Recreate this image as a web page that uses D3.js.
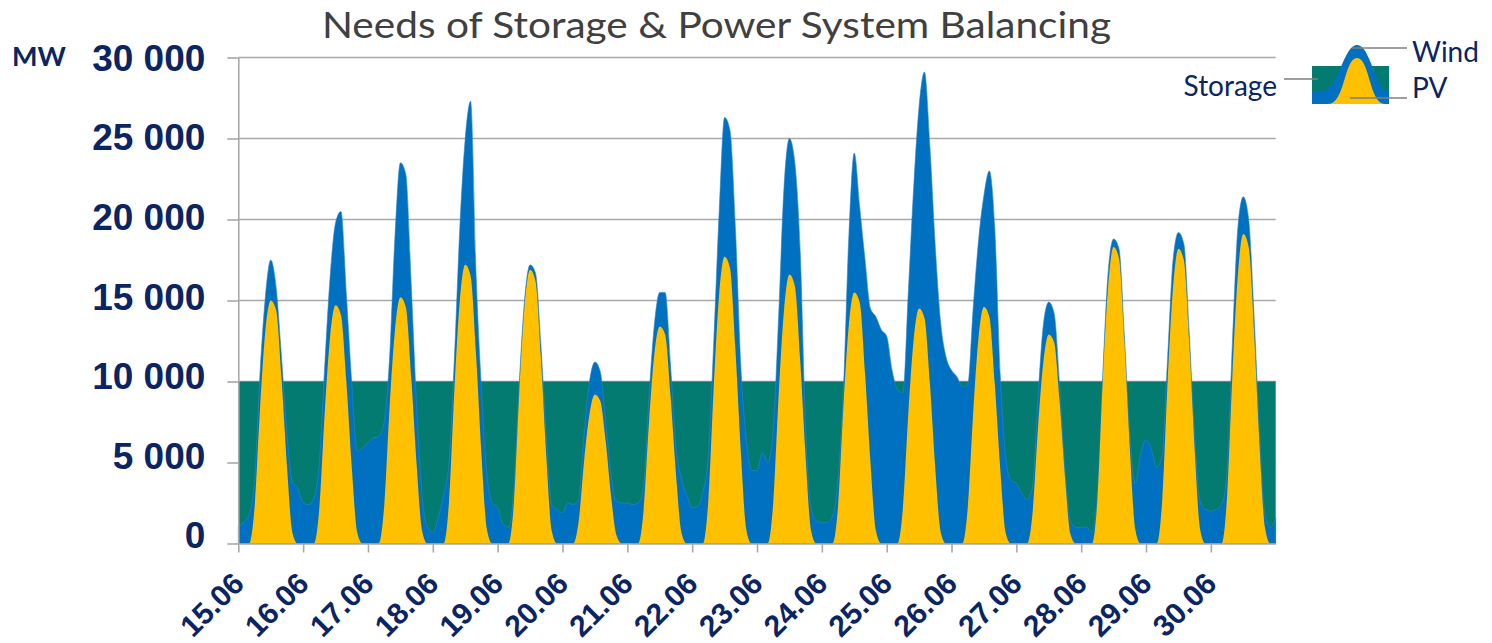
<!DOCTYPE html>
<html><head><meta charset="utf-8">
<script src="https://cdn.jsdelivr.net/npm/d3@7"></script>
<style>html,body{margin:0;padding:0;background:#fff}svg{display:block}</style>
</head><body>
<svg id="chart" width="1492" height="643"></svg>
<script>
// ---- data (MW), one value every 2 hours starting 15.06 00:00 ----
const dayLabels = ["15.06","16.06","17.06","18.06","19.06","20.06","21.06","22.06",
                   "23.06","24.06","25.06","26.06","27.06","28.06","29.06","30.06"];
const stepHours = 2;
const storageLevel = 10000;
const yTicks = [0, 5000, 10000, 15000, 20000, 25000, 30000];

const pv = [
  0,0,0,2200,8200,13100,15000,14400,10200,4800,700,0,
  0,0,0,2200,8100,12800,14700,14100,10000,4700,700,0,
  0,0,0,2300,8400,13200,15200,14600,10300,4900,800,0,
  0,0,0,2600,9500,15000,17200,16500,11700,5500,900,0,
  0,0,0,2500,9300,14700,16900,16200,11500,5400,800,0,
  0,0,0,1400,5100,8000,9200,8800,6300,2900,500,0,
  0,0,0,2000,7400,11700,13400,12900,9100,4300,700,0,
  0,0,0,2700,9700,15400,17700,17000,12000,5700,900,0,
  0,0,0,2500,9100,14400,16600,15900,11300,5300,800,0,
  0,0,0,2300,8500,13500,15500,14900,10500,5000,800,0,
  0,0,0,2200,8000,12600,14500,13900,9900,4600,700,0,
  0,0,0,2200,8000,12700,14600,14000,9900,4700,700,0,
  0,0,0,1900,7100,11200,12900,12400,8800,4100,600,0,
  0,0,0,2700,10100,15900,18300,17600,12400,5900,900,0,
  0,0,0,2700,10000,15800,18200,17500,12400,5800,900,0,
  0,0,0,2900,10500,16600,19100,18300,13000,6100,1000,0,
  0
];

const wind = [
  1100,1300,1800,1600,2200,2100,2500,1400,1300,2000,3100,3400,
  2500,2400,2800,2800,2900,3700,5100,6400,5400,5200,5000,5900,
  6200,6500,6600,5200,3100,5800,8300,8200,5700,3600,2200,1000,
  700,1600,3000,2400,2000,4500,7800,10800,5000,4000,3400,2500,
  2200,1200,1000,800,600,400,300,500,800,1200,1600,2100,
  1900,2500,2400,1300,1700,2000,2000,1800,1200,1300,2100,2500,
  2500,2400,2500,1500,1600,1800,2100,2600,1900,1700,3300,3000,
  2200,2300,3200,2800,2800,5100,8600,8500,7500,5300,5600,4500,
  4500,5600,5000,4500,4900,7600,8400,7600,6700,1700,1400,1400,
  1300,1300,1700,1700,1000,5500,8600,5900,7000,9500,13200,13200,
  12800,10700,9500,7100,7500,9400,12500,15200,14600,13700,12900,11500,
  10700,10300,9700,7600,6500,6000,6900,9000,9600,5800,4700,3900,
  3700,3100,2700,1600,1900,2300,2000,1800,1000,400,800,1000,
  1000,1000,700,300,400,900,500,600,400,800,2800,5500,
  6400,5800,4700,2800,1500,1700,1000,1000,600,800,1700,2100,
  2000,2100,2400,1600,2000,2900,2300,1700,1000,800,800,1000,
  1600
];

// ---- layout / style ----
const NAVY = "#0b2463";
const GREEN = "#037b70";
const BLUE = "#0070c0";
const YELLOW = "#ffc000";
const GRID = "#a9a9a9";

const svg = d3.select("#chart");
const pLeft = 238.3, pRight = 1275.7, pTop = 57.5, pBottom = 543.5;

const x = d3.scaleLinear().domain([0, dayLabels.length]).range([pLeft, pRight]);
const y = d3.scaleLinear().domain([0, 30000]).range([pBottom, pTop]);
const yLab = d3.scaleLinear().domain([0, 30000]).range([535, 57.2]);

const rows = pv.map((p, i) => ({ t: i * stepHours / 24, pv: p, wind: wind[i] }));
const stacked = d3.stack().keys(["pv", "wind"])(rows);

// gridlines
svg.append("g").selectAll("line").data(yTicks.filter(d => d > 0)).join("line")
  .attr("x1", pLeft).attr("x2", pRight)
  .attr("y1", d => y(d)).attr("y2", d => y(d))
  .attr("stroke", GRID).attr("stroke-width", 1.6);

// storage band
svg.append("rect")
  .attr("x", x(0)).attr("width", x(dayLabels.length) - x(0))
  .attr("y", y(storageLevel)).attr("height", y(0) - y(storageLevel))
  .attr("fill", GREEN);

// wind (stacked on PV) – drawn from zero, PV on top
const areaTotal = d3.area().curve(d3.curveMonotoneX)
  .x((d, i) => x(rows[i].t)).y0(y(0)).y1(d => y(d[1]));
svg.append("path").datum(stacked[1]).attr("d", areaTotal)
  .attr("fill", BLUE).attr("stroke", "#2f86c4").attr("stroke-width", 0.6);

const areaPV = d3.area().curve(d3.curveMonotoneX)
  .x((d, i) => x(rows[i].t)).y0(y(0)).y1(d => y(d[1]));
svg.append("path").datum(stacked[0]).attr("d", areaPV).attr("fill", YELLOW);

// y axis
const yAxis = svg.append("g").attr("transform", `translate(${pLeft},0)`)
  .call(d3.axisLeft(y).tickValues(yTicks).tickSize(11).tickSizeOuter(0)
    .tickFormat(d => d3.format(",")(d).replace(/,/g, " ")));
yAxis.select(".domain").attr("stroke", GRID).attr("stroke-width", 1.6);
yAxis.selectAll(".tick line").attr("stroke", GRID).attr("stroke-width", 1.6);
yAxis.selectAll(".tick text")
  .attr("x", -33).attr("y", d => yLab(d) - y(d)).attr("dy", "0.35em")
  .attr("fill", NAVY)
  .style("font-family", "'Liberation Sans', Arial, sans-serif")
  .style("font-weight", "bold").style("font-size", "37px");

// x axis
const xAxis = svg.append("g").attr("transform", `translate(0,${pBottom})`)
  .call(d3.axisBottom(x).tickValues(d3.range(dayLabels.length))
    .tickSize(9).tickSizeOuter(0).tickFormat(i => dayLabels[i]));
xAxis.select(".domain").attr("stroke", GRID).attr("stroke-width", 1.6);
xAxis.selectAll(".tick line").attr("stroke", GRID).attr("stroke-width", 1.6);
xAxis.selectAll(".tick text")
  .attr("x", 0).attr("y", 0).attr("dy", 0)
  .attr("transform", "translate(7,42) rotate(-45)")
  .attr("text-anchor", "end")
  .attr("fill", NAVY)
  .style("font-family", "'Liberation Sans', Arial, sans-serif")
  .style("font-weight", "bold").style("font-size", "30px");

// title
svg.append("text").attr("x", 716.5).attr("y", 37.5).attr("text-anchor", "middle")
  .attr("textLength", 789).attr("lengthAdjust", "spacingAndGlyphs")
  .attr("fill", "#404040")
  .style("font-family", "Lato, sans-serif").style("font-size", "37px")
  .text("Needs of Storage & Power System Balancing");

// unit
svg.append("text").attr("x", 12).attr("y", 66)
  .attr("fill", NAVY)
  .style("font-family", "Lato, sans-serif").style("font-weight", "bold").style("font-size", "27px")
  .text("MW");

// legend
const lg = svg.append("g");
lg.append("rect").attr("x", 1312).attr("y", 66).attr("width", 77).attr("height", 26).attr("fill", GREEN);
lg.append("rect").attr("x", 1312).attr("y", 92).attr("width", 77).attr("height", 12).attr("fill", BLUE);
lg.append("path").attr("d", "M1319,92 C1339,92 1343,45 1357,45 C1371,45 1375,92 1389,92 Z").attr("fill", BLUE);
lg.append("path").attr("d", "M1328,104 C1345,104 1344,58 1357,58 C1370,58 1369,104 1385,104 Z").attr("fill", YELLOW);
const lead = [[1352, 48, 1407, 48], [1350, 98, 1407, 98], [1284, 79, 1318, 79]];
lg.selectAll("line").data(lead).join("line")
  .attr("x1", d => d[0]).attr("y1", d => d[1]).attr("x2", d => d[2]).attr("y2", d => d[3])
  .attr("stroke", "#7f7f7f").attr("stroke-width", 1.5);
const lgText = [["Wind", 1412, 62, "start"], ["PV", 1412, 98, "start"], ["Storage", 1277, 96, "end"]];
lg.selectAll("text").data(lgText).join("text")
  .attr("x", d => d[1]).attr("y", d => d[2]).attr("text-anchor", d => d[3])
  .attr("fill", NAVY)
  .style("font-family", "Lato, sans-serif").style("font-size", "28px")
  .text(d => d[0]);
</script>
</body></html>
